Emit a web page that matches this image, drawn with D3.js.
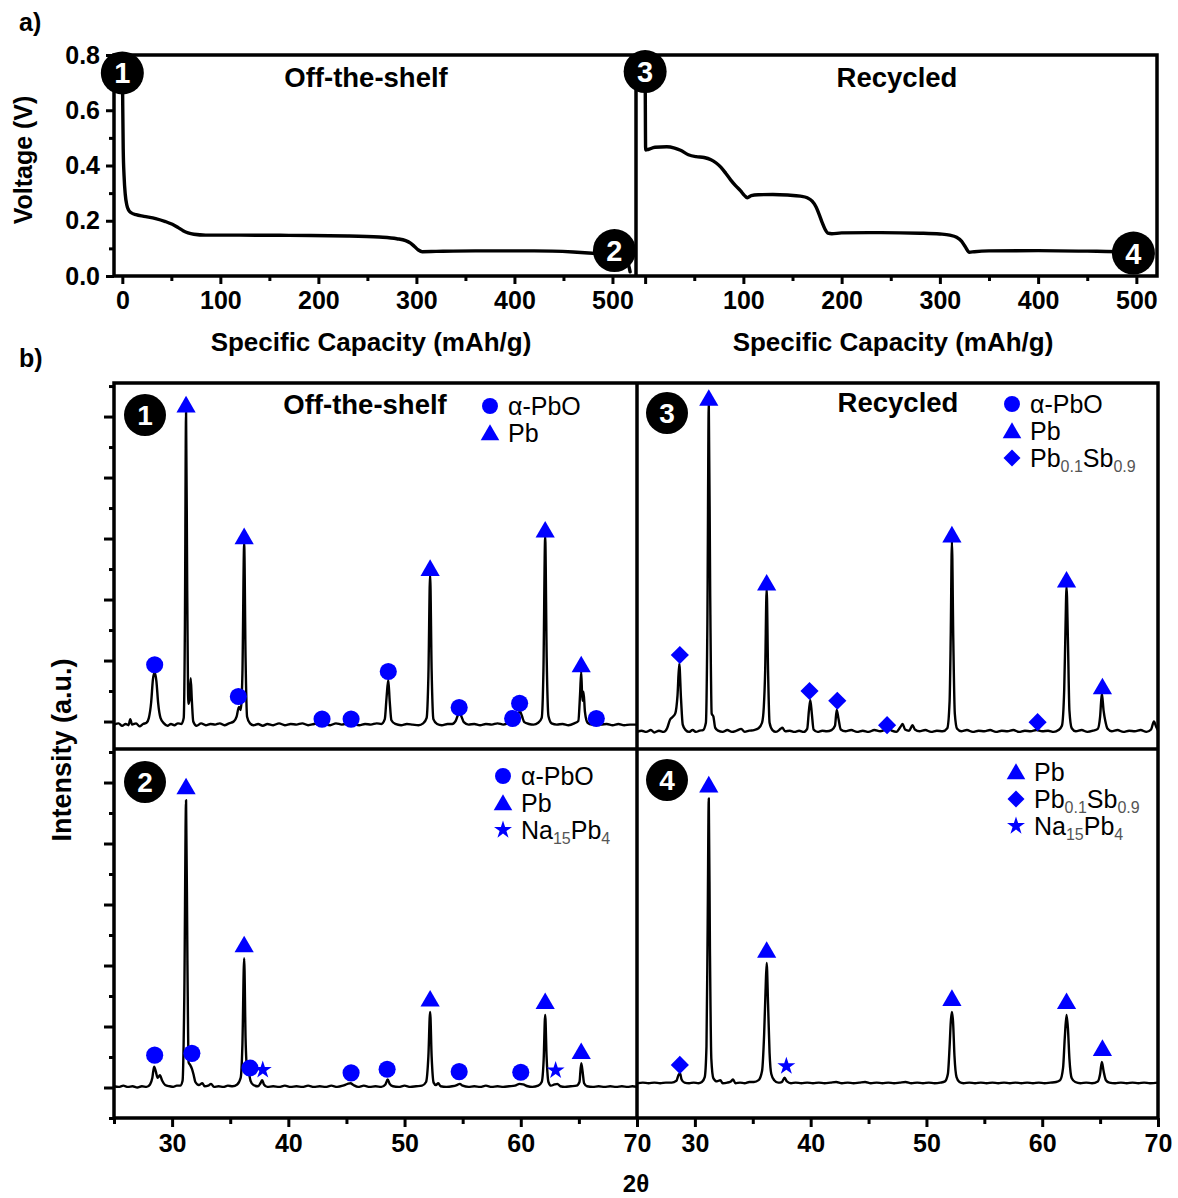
<!DOCTYPE html>
<html>
<head>
<meta charset="utf-8">
<script src="https://cdn.jsdelivr.net/npm/d3@7"></script>
<style>
  html, body { margin: 0; padding: 0; background: #fff; }
  svg { display: block; }
</style>
</head>
<body>
<svg id="fig" width="1178" height="1198"></svg>
<script>
// ---------------- data ----------------
// (a) galvanostatic discharge: specific capacity (mAh/g) vs voltage (V)
const voltageTicks = [0, 0.2, 0.4, 0.6, 0.8];
const voltageMinorTicks = [0.1, 0.3, 0.5, 0.7];
const capacityTicks = [0, 100, 200, 300, 400, 500];
const capacityMinorTicks = [50, 150, 250, 350, 450];

const dischargeOffShelf = [
  [0, 0.80], [0.4, 0.62], [0.9, 0.46], [1.8, 0.36], [3.0, 0.295], [4.5, 0.258], [6.5, 0.238],
  [9, 0.229], [14, 0.222], [22, 0.216], [34, 0.208], [44, 0.197], [51, 0.187], [57, 0.175],
  [62, 0.164], [67, 0.156], [73, 0.151], [85, 0.148], [120, 0.148], [170, 0.147], [230, 0.145],
  [262, 0.141], [280, 0.135], [289, 0.128], [294, 0.119], [298, 0.107], [302, 0.094], [306, 0.088],
  [320, 0.089], [360, 0.091], [420, 0.091], [460, 0.087], [490, 0.080], [505, 0.075], [512, 0.068],
  [516, 0.045], [518, 0.015]
];

const dischargeRecycled = [
  [0, 0.80], [0.2, 0.62], [0.5, 0.456], [3, 0.458], [10, 0.466], [22, 0.468], [30, 0.463],
  [36, 0.455], [44, 0.439], [52, 0.432], [60, 0.429], [67, 0.421], [72, 0.410], [77, 0.394],
  [82, 0.372], [87, 0.348], [92, 0.327], [97, 0.309], [101, 0.292], [104, 0.283], [108, 0.291],
  [115, 0.294], [130, 0.295], [145, 0.293], [158, 0.289], [165, 0.283], [170, 0.271], [174, 0.250],
  [177, 0.224], [180, 0.195], [183, 0.170], [186, 0.155], [190, 0.153], [200, 0.156], [240, 0.157],
  [280, 0.155], [300, 0.152], [310, 0.148], [317, 0.140], [322, 0.126], [326, 0.105], [330, 0.086],
  [335, 0.088], [350, 0.091], [400, 0.092], [450, 0.090], [490, 0.087], [505, 0.084]
];

// numbered states on the discharge curves: [label, curve, capacity, voltage]
const dischargeStates = [
  ["1", "offShelf", 0, 0.735],
  ["2", "offShelf", 502, 0.092],
  ["3", "recycled", 0, 0.740],
  ["4", "recycled", 497, 0.083]
];

// (b) XRD: 2θ (deg) vs intensity (a.u., relative to each pattern's baseline)
const twoThetaTicks = [30, 40, 50, 60, 70];
const twoThetaMinorTicks = [25, 35, 45, 55, 65];
const intensityTicks = [0, 1, 2, 3, 4, 5, 6, 7, 8, 9, 10, 11];
const intensityMinorTicks = [-0.5, 0.5, 1.5, 2.5, 3.5, 4.5, 5.5, 6.5, 7.5, 8.5, 9.5, 10.5, 11.5];

// vertical stacking offsets of the four patterns
const xrdOffsets = [5.94, 0.01, 5.83, 0.07];

const xrdOffShelfPristine = [
  [25.0,0.01],[25.4,0.03],[25.7,-0.01],[26.0,0.02],[26.25,0.0],[26.4,0.1],[26.55,0.01],[26.9,0.03],
  [27.2,-0.02],[27.5,0.02],[27.8,0.04],[28.0,0.12],[28.2,0.38],[28.35,0.75],[28.5,0.87],[28.65,0.72],
  [28.8,0.36],[29.0,0.12],[29.3,0.03],[29.6,-0.01],[29.9,0.02],[30.2,0.0],[30.5,0.03],[30.8,0.02],
  [31.0,0.12],[31.1,1.6],[31.2,5.13],[31.3,2.2],[31.4,0.35],[31.5,0.42],[31.6,0.77],[31.7,0.4],
  [31.82,0.06],[32.1,-0.01],[32.5,0.03],[32.9,0.0],[33.3,0.02],[33.7,0.01],[34.1,0.03],[34.5,0.0],
  [34.9,0.03],[35.3,0.06],[35.55,0.14],[35.75,0.3],[35.9,0.25],[36.05,0.85],[36.2,2.98],[36.32,1.1],
  [36.45,0.14],[36.7,0.03],[37.0,0.0],[37.4,0.02],[37.8,-0.01],[38.2,0.02],[38.7,0.0],[39.2,0.03],
  [39.7,0.0],[40.2,0.02],[40.7,0.01],[41.2,0.03],[41.7,0.0],[42.2,0.02],[42.6,0.04],[42.85,0.06],
  [43.1,0.02],[43.6,0.0],[44.1,0.03],[44.6,0.01],[45.0,0.03],[45.3,0.06],[45.6,0.02],[46.1,0.0],
  [46.6,0.02],[47.1,0.01],[47.6,0.03],[48.0,0.02],[48.3,0.1],[48.45,0.45],[48.6,0.74],[48.72,0.4],
  [48.87,0.08],[49.2,0.02],[49.7,0.0],[50.2,0.02],[50.7,0.01],[51.2,0.0],[51.6,0.03],[51.9,0.12],
  [52.05,0.8],[52.2,2.48],[52.33,0.9],[52.48,0.1],[52.8,0.02],[53.2,0.0],[53.7,0.02],[54.1,0.02],
  [54.4,0.07],[54.6,0.17],[54.75,0.2],[54.9,0.14],[55.1,0.05],[55.5,0.01],[56.0,0.02],[56.5,0.0],
  [57.0,0.02],[57.5,0.01],[58.0,0.03],[58.5,0.01],[58.9,0.03],[59.3,0.06],[59.6,0.1],[59.8,0.2],
  [59.95,0.22],[60.1,0.15],[60.3,0.05],[60.7,0.02],[61.1,0.01],[61.5,0.04],[61.8,0.12],[61.95,0.9],
  [62.1,3.09],[62.23,1.1],[62.38,0.15],[62.65,0.03],[63.1,0.01],[63.6,0.02],[64.1,0.0],[64.6,0.03],
  [64.95,0.07],[65.1,0.5],[65.2,0.88],[65.3,0.4],[65.4,0.55],[65.52,0.22],[65.75,0.04],[66.1,0.01],
  [66.5,0.04],[66.9,0.01],[67.4,0.02],[67.9,0.0],[68.4,0.02],[68.9,0.0],[69.4,0.01],[70.0,0.01]
];

const xrdOffShelfDischarged = [
  [25.0,0.01],[25.4,0.0],[25.8,0.02],[26.2,0.0],[26.6,0.01],[27.0,-0.01],[27.4,0.01],[27.8,0.0],
  [28.1,0.04],[28.3,0.15],[28.45,0.33],[28.6,0.25],[28.75,0.15],[28.95,0.19],[29.15,0.1],[29.4,0.03],
  [29.8,0.01],[30.1,0.0],[30.4,0.02],[30.7,0.02],[30.9,0.1],[31.05,1.5],[31.2,4.7],[31.32,2.0],
  [31.42,0.4],[31.55,0.36],[31.7,0.3],[31.85,0.2],[32.0,0.08],[32.3,0.03],[32.6,0.06],[32.8,0.01],
  [33.1,0.02],[33.35,0.05],[33.6,0.0],[34.0,0.01],[34.4,0.0],[34.8,0.02],[35.2,0.01],[35.6,0.04],
  [35.9,0.15],[36.05,0.7],[36.2,2.11],[36.32,0.8],[36.45,0.3],[36.6,0.23],[36.75,0.1],[37.0,0.03],
  [37.4,0.01],[37.6,0.06],[37.75,0.11],[37.9,0.04],[38.2,0.0],[38.7,0.01],[39.2,0.0],[39.7,0.02],
  [40.2,0.0],[40.7,0.01],[41.2,0.0],[41.7,0.02],[42.2,0.0],[42.7,0.01],[43.2,0.0],[43.7,0.02],
  [44.2,0.0],[44.7,0.02],[45.1,0.05],[45.35,0.06],[45.6,0.03],[46.0,0.0],[46.5,0.02],[47.0,0.0],
  [47.5,0.01],[48.0,0.0],[48.35,0.04],[48.55,0.12],[48.72,0.05],[49.0,0.01],[49.5,0.0],[50.0,0.02],
  [50.5,0.0],[51.0,0.01],[51.5,0.02],[51.85,0.08],[52.05,0.5],[52.2,1.23],[52.33,0.5],[52.5,0.07],
  [52.7,0.03],[52.9,0.06],[53.1,0.01],[53.6,0.0],[54.1,0.01],[54.5,0.03],[54.75,0.05],[55.0,0.02],
  [55.5,0.0],[56.0,0.01],[56.5,0.0],[57.0,0.02],[57.5,0.0],[58.0,0.01],[58.5,0.0],[59.0,0.01],
  [59.5,0.02],[59.9,0.05],[60.2,0.04],[60.6,0.01],[61.0,0.0],[61.5,0.02],[61.8,0.08],[61.97,0.45],
  [62.1,1.18],[62.22,0.5],[62.38,0.08],[62.6,0.02],[62.9,0.04],[63.15,0.05],[63.4,0.01],[63.8,0.0],
  [64.3,0.01],[64.8,0.02],[65.05,0.08],[65.2,0.39],[65.32,0.25],[65.45,0.06],[65.7,0.01],[66.2,0.0],
  [66.7,0.01],[67.2,0.0],[67.7,0.01],[68.2,0.0],[68.7,0.01],[69.2,0.0],[69.6,0.01],[70.0,0.0]
];

const xrdRecycledPristine = [
  [25.0,0.0],[25.4,0.02],[25.8,0.0],[26.2,0.03],[26.5,-0.01],[26.9,0.02],[27.3,0.0],[27.6,0.06],
  [27.85,0.2],[28.05,0.24],[28.3,0.3],[28.5,0.6],[28.65,1.12],[28.8,0.55],[28.95,0.12],[29.2,0.03],
  [29.5,0.0],[29.8,0.03],[30.1,0.0],[30.4,0.02],[30.7,0.03],[30.95,0.15],[31.08,1.8],[31.2,5.39],
  [31.32,2.3],[31.45,0.3],[31.6,0.25],[31.75,0.07],[32.0,0.02],[32.4,0.0],[32.8,0.03],[33.2,0.0],
  [33.6,0.02],[34.0,0.05],[34.3,0.0],[34.7,0.02],[35.1,0.03],[35.5,0.06],[35.8,0.15],[35.95,0.4],
  [36.07,1.0],[36.2,2.35],[36.32,1.0],[36.45,0.15],[36.7,0.03],[37.0,0.0],[37.4,0.05],[37.55,0.07],
  [37.8,0.01],[38.2,0.02],[38.6,0.0],[39.0,0.02],[39.4,0.0],[39.7,0.05],[39.85,0.35],[39.97,0.52],
  [40.1,0.3],[40.25,0.04],[40.6,0.0],[41.0,0.02],[41.4,0.01],[41.8,0.03],[42.1,0.1],[42.25,0.36],
  [42.4,0.22],[42.6,0.04],[43.0,0.01],[43.5,0.03],[44.0,0.0],[44.5,0.02],[45.0,0.0],[45.5,0.03],
  [46.0,0.01],[46.4,0.03],[46.7,0.05],[47.0,0.02],[47.4,0.0],[47.75,0.08],[47.95,0.13],[48.15,0.04],
  [48.5,0.02],[48.8,0.11],[49.0,0.04],[49.4,0.01],[49.9,0.03],[50.4,0.0],[50.9,0.02],[51.4,0.01],
  [51.8,0.06],[52.0,0.5],[52.1,1.6],[52.2,3.12],[52.32,1.5],[52.45,0.3],[52.65,0.05],[53.0,0.01],
  [53.5,0.03],[54.0,0.0],[54.5,0.02],[55.0,0.01],[55.5,0.03],[56.0,0.0],[56.5,0.02],[57.0,0.01],
  [57.5,0.03],[58.0,0.0],[58.5,0.02],[59.0,0.01],[59.5,0.03],[60.0,0.01],[60.5,0.02],[61.0,0.0],
  [61.4,0.03],[61.7,0.1],[61.9,0.7],[62.0,1.6],[62.1,2.38],[62.22,1.5],[62.35,0.35],[62.55,0.06],
  [62.9,0.01],[63.4,0.03],[63.9,0.0],[64.4,0.02],[64.8,0.05],[65.0,0.25],[65.15,0.63],[65.3,0.35],
  [65.45,0.18],[65.65,0.05],[66.0,0.01],[66.5,0.03],[67.0,0.0],[67.5,0.02],[68.0,0.01],[68.5,0.03],
  [69.0,0.0],[69.4,0.04],[69.65,0.17],[69.85,0.08],[70.0,0.03]
];

const xrdRecycledDischarged = [
  [25.0,0.0],[25.5,0.01],[26.0,0.0],[26.5,0.01],[27.0,0.0],[27.5,0.01],[28.0,0.01],[28.4,0.04],
  [28.6,0.14],[28.72,0.16],[28.85,0.06],[29.1,0.01],[29.5,0.0],[29.9,0.01],[30.3,0.0],[30.6,0.02],
  [30.85,0.1],[31.0,0.6],[31.1,2.5],[31.2,4.67],[31.3,2.2],[31.42,0.4],[31.6,0.08],[31.9,0.03],
  [32.2,0.05],[32.4,0.0],[32.8,0.01],[33.1,0.03],[33.3,0.06],[33.5,0.0],[33.9,0.01],[34.3,0.0],
  [34.7,0.02],[35.1,0.02],[35.5,0.05],[35.8,0.2],[35.98,0.8],[36.1,1.5],[36.2,1.97],[36.32,1.3],
  [36.45,0.5],[36.6,0.15],[36.85,0.05],[37.2,0.01],[37.5,0.02],[37.75,0.09],[37.95,0.03],[38.3,0.0],
  [38.7,0.01],[39.2,0.0],[39.7,0.01],[40.2,0.0],[40.7,0.01],[41.2,0.0],[41.7,0.01],[42.2,0.02],
  [42.7,0.0],[43.2,0.01],[43.7,0.0],[44.2,0.01],[44.7,0.02],[45.2,0.0],[45.7,0.01],[46.2,0.0],
  [46.7,0.01],[47.2,0.0],[47.7,0.01],[48.2,0.02],[48.7,0.0],[49.2,0.01],[49.7,0.0],[50.2,0.01],
  [50.7,0.0],[51.2,0.01],[51.6,0.03],[51.85,0.15],[52.0,0.6],[52.1,1.0],[52.2,1.17],[52.3,1.0],
  [52.42,0.45],[52.6,0.1],[52.85,0.02],[53.2,0.0],[53.7,0.01],[54.2,0.0],[54.7,0.01],[55.2,0.0],
  [55.7,0.01],[56.2,0.0],[56.7,0.01],[57.2,0.0],[57.7,0.01],[58.2,0.0],[58.7,0.01],[59.2,0.0],
  [59.7,0.01],[60.2,0.0],[60.7,0.01],[61.2,0.02],[61.55,0.05],[61.8,0.25],[61.95,0.75],[62.1,1.12],
  [62.22,0.9],[62.35,0.4],[62.55,0.08],[62.85,0.02],[63.3,0.0],[63.8,0.01],[64.3,0.0],[64.8,0.03],
  [65.0,0.15],[65.15,0.35],[65.3,0.2],[65.5,0.05],[65.8,0.01],[66.3,0.0],[66.8,0.01],[67.3,0.0],
  [67.8,0.01],[68.3,0.0],[68.8,0.01],[69.3,0.0],[70.0,0.01]
];

// phase markers: [phase, 2θ, stacked intensity level]
const markersOffShelfPristine = [
  ["PbO",28.5,6.93],["Pb",31.2,11.19],["PbO",35.7,6.41],["Pb",36.2,9.03],["PbO",42.9,6.04],
  ["PbO",45.4,6.04],["PbO",48.6,6.82],["Pb",52.2,8.51],["PbO",54.7,6.23],["PbO",59.3,6.05],
  ["PbO",59.9,6.30],["Pb",62.1,9.14],["Pb",65.2,6.93],["PbO",66.5,6.05]
];
const markersOffShelfDischarged = [
  ["PbO",28.5,0.53],["Pb",31.2,4.93],["PbO",31.7,0.56],["Pb",36.2,2.34],["PbO",36.7,0.32],
  ["Na15Pb4",37.8,0.29],["PbO",45.4,0.24],["PbO",48.5,0.30],["Pb",52.2,1.45],["PbO",54.7,0.26],
  ["PbO",60.0,0.25],["Pb",62.1,1.41],["Na15Pb4",63.0,0.28],["Pb",65.2,0.59]
];
const markersRecycledPristine = [
  ["PbSb",28.7,7.09],["Pb",31.2,11.30],["Pb",36.2,8.27],["PbSb",39.9,6.50],["PbSb",42.3,6.34],
  ["PbSb",46.6,5.94],["Pb",52.2,9.06],["PbSb",59.6,5.99],["Pb",62.1,8.32],["Pb",65.2,6.57]
];
const markersRecycledDischarged = [
  ["PbSb",28.7,0.37],["Pb",31.2,4.96],["Pb",36.2,2.25],["Na15Pb4",37.9,0.35],["Pb",52.2,1.46],
  ["Pb",62.1,1.41],["Pb",65.2,0.64]
];

const legendOffShelfPristine = ["PbO", "Pb"];
const legendOffShelfDischarged = ["PbO", "Pb", "Na15Pb4"];
const legendRecycledPristine = ["PbO", "Pb", "PbSb"];
const legendRecycledDischarged = ["Pb", "PbSb", "Na15Pb4"];

// phase names, split into [text, isSubscript] runs
const phaseNames = {
  PbO: [["α-PbO", false]],
  Pb: [["Pb", false]],
  PbSb: [["Pb", false], ["0.1", true], ["Sb", false], ["0.9", true]],
  Na15Pb4: [["Na", false], ["15", true], ["Pb", false], ["4", true]]
};

// ---------------- drawing ----------------
const FONT = '"Liberation Sans", Arial, Helvetica, sans-serif';
const BLUE = "#0000ff";
const svg = d3.select("#fig").attr("font-family", FONT);

// (a) scales
const xCapL = d3.scaleLinear().domain([-8.5, 524]).range([114, 636]);
const xCapR = d3.scaleLinear().domain([-9.3, 521]).range([636, 1157]);
const yV = d3.scaleLinear().domain([0, 0.8]).range([276, 55]);

// (b) scales
const x2tL = d3.scaleLinear().domain([25, 70]).range([114, 637]);
const x2tR = d3.scaleLinear().domain([25, 70]).range([637, 1158]);
const yI = d3.scaleLinear().domain([-0.5, 11.55]).range([1118, 383]);

function styleAxis(g, size) {
  g.select(".domain").remove();
  g.selectAll(".tick line").attr("stroke", "#000").attr("stroke-width", 3);
  g.selectAll(".tick text")
    .attr("font-family", FONT).attr("font-weight", "bold")
    .attr("font-size", size).attr("fill", "#000");
}

function addText(x, y, str, opts = {}) {
  return svg.append("text")
    .attr("x", x).attr("y", y)
    .attr("text-anchor", opts.anchor || "middle")
    .attr("font-size", opts.size || 24)
    .attr("font-weight", opts.weight || "bold")
    .attr("fill", opts.fill || "#000")
    .attr("transform", opts.transform || null)
    .text(str);
}

// panel labels
addText(19, 31, "a)", { anchor: "start", size: 25 });
addText(19, 367, "b)", { anchor: "start", size: 25 });

// ---- (a) axes ----
const gAy = svg.append("g").attr("transform", "translate(114,0)");
gAy.append("g").call(d3.axisLeft(yV).tickValues(voltageTicks).tickSize(8).tickPadding(6)
  .tickFormat(d3.format(".1f"))).call(styleAxis, 25);
gAy.append("g").call(d3.axisLeft(yV).tickValues(voltageMinorTicks).tickSize(5).tickFormat(""))
  .call(styleAxis, 25);

[[xCapL, d => d3.format("d")(d)], [xCapR, d => d === 0 ? "" : d3.format("d")(d)]].forEach(([sc, fmt]) => {
  const g = svg.append("g").attr("transform", "translate(0,276)");
  g.append("g").call(d3.axisBottom(sc).tickValues(capacityTicks).tickSize(8).tickPadding(7)
    .tickFormat(fmt)).call(styleAxis, 25);
  g.append("g").call(d3.axisBottom(sc).tickValues(capacityMinorTicks).tickSize(5).tickFormat(""))
    .call(styleAxis, 25);
});

addText(23, 160, "Voltage (V)", { size: 25, transform: "rotate(-90,23,160)" }).attr("dy", "0.35em");
addText(371, 351, "Specific Capacity (mAh/g)", { size: 26 });
addText(893, 351, "Specific Capacity (mAh/g)", { size: 26 });

// ---- (a) curves ----
svg.append("defs").call(defs => {
  defs.append("clipPath").attr("id", "clipAL").append("rect").attr("x", 114).attr("y", 55).attr("width", 522).attr("height", 221);
  defs.append("clipPath").attr("id", "clipAR").append("rect").attr("x", 636).attr("y", 55).attr("width", 521).attr("height", 221);
});

const curveScales = { offShelf: xCapL, recycled: xCapR };
[["offShelf", dischargeOffShelf, "clipAL"], ["recycled", dischargeRecycled, "clipAR"]].forEach(([key, data, clip]) => {
  const sc = curveScales[key];
  svg.append("path")
    .datum(data)
    .attr("clip-path", `url(#${clip})`)
    .attr("fill", "none").attr("stroke", "#000").attr("stroke-width", 3.4)
    .attr("stroke-linejoin", "round").attr("stroke-linecap", "round")
    .attr("d", d3.line().x(d => sc(d[0])).y(d => yV(d[1])).curve(d3.curveMonotoneX));
});

// frame of (a)
const frameA = svg.append("g").attr("fill", "none").attr("stroke", "#000").attr("stroke-width", 3.5);
frameA.append("rect").attr("x", 114).attr("y", 55).attr("width", 1043).attr("height", 221);
frameA.append("line").attr("x1", 636).attr("x2", 636).attr("y1", 55).attr("y2", 276);

// titles in (a)
addText(366, 87, "Off-the-shelf", { size: 27.5 });
addText(897, 87, "Recycled", { size: 27.5 });

// numbered state badges
function badge(cx, cy, label, r, fs) {
  const g = svg.append("g");
  g.append("circle").attr("cx", cx).attr("cy", cy).attr("r", r).attr("fill", "#000");
  g.append("text").attr("x", cx).attr("y", cy).attr("dy", "0.36em")
    .attr("text-anchor", "middle").attr("font-size", fs).attr("font-weight", "bold")
    .attr("fill", "#fff").text(label);
}
dischargeStates.forEach(([label, curve, cap, v]) => {
  badge(curveScales[curve](cap), yV(v), label, 21.5, 29);
});

// ---- (b) XRD panels ----
const xrdPanels = [
  { data: xrdOffShelfPristine, offset: xrdOffsets[0], markers: markersOffShelfPristine,
    legend: legendOffShelfPristine, x: x2tL, box: [114, 383, 637, 749], badge: ["1", 145, 415],
    title: ["Off-the-shelf", 365, 414], legendAt: [490, 406] },
  { data: xrdOffShelfDischarged, offset: xrdOffsets[1], markers: markersOffShelfDischarged,
    legend: legendOffShelfDischarged, x: x2tL, box: [114, 749, 637, 1118], badge: ["2", 145, 782],
    title: null, legendAt: [503, 776] },
  { data: xrdRecycledPristine, offset: xrdOffsets[2], markers: markersRecycledPristine,
    legend: legendRecycledPristine, x: x2tR, box: [637, 383, 1158, 749], badge: ["3", 667, 413],
    title: ["Recycled", 898, 412], legendAt: [1012, 404] },
  { data: xrdRecycledDischarged, offset: xrdOffsets[3], markers: markersRecycledDischarged,
    legend: legendRecycledDischarged, x: x2tR, box: [637, 749, 1158, 1118], badge: ["4", 667, 780],
    title: null, legendAt: [1016, 772] }
];

const symbolType = { PbO: d3.symbolCircle, Pb: d3.symbolTriangle, PbSb: d3.symbolSquare, Na15Pb4: d3.symbolStar };
const symbolSize = { PbO: 230, Pb: 160, PbSb: 165, Na15Pb4: 100 };
const legendSize = { PbO: 200, Pb: 150, PbSb: 145, Na15Pb4: 100 };
// triangles are centred on their centroid; shift so the marker box is centred
const symbolDy = { PbO: 0, Pb: 2, PbSb: 0, Na15Pb4: 0 };
const symbolRotate = { PbO: 0, Pb: 0, PbSb: 45, Na15Pb4: 0 };

function drawSymbol(g, phase, x, y, size) {
  g.append("path")
    .attr("d", d3.symbol().type(symbolType[phase]).size(size)())
    .attr("transform", `translate(${x},${y + symbolDy[phase]}) rotate(${symbolRotate[phase]})`)
    .attr("fill", BLUE);
}

const defsB = svg.append("defs");
xrdPanels.forEach((p, i) => {
  const [x0, y0, x1, y1] = p.box;
  defsB.append("clipPath").attr("id", "clipB" + i).append("rect")
    .attr("x", x0).attr("y", y0).attr("width", x1 - x0).attr("height", y1 - y0);

  svg.append("path")
    .datum(p.data)
    .attr("clip-path", `url(#clipB${i})`)
    .attr("fill", "none").attr("stroke", "#000").attr("stroke-width", 2.4)
    .attr("stroke-linejoin", "round")
    .attr("d", d3.line().x(d => p.x(d[0])).y(d => yI(d[1] + p.offset)).curve(d3.curveMonotoneX));

  const gm = svg.append("g");
  p.markers.forEach(([phase, tt, lvl]) => drawSymbol(gm, phase, p.x(tt), yI(lvl), symbolSize[phase]));

  // legend
  const gl = svg.append("g");
  p.legend.forEach((phase, k) => {
    const ly = p.legendAt[1] + k * 27;
    drawSymbol(gl, phase, p.legendAt[0], ly, legendSize[phase]);
    const t = gl.append("text").attr("x", p.legendAt[0] + 18).attr("y", ly + 9)
      .attr("font-size", 25).attr("fill", "#000");
    phaseNames[phase].forEach(([s, sub], j) => {
      const ts = t.append("tspan").text(s);
      if (sub) ts.attr("font-size", 16).attr("dy", 5).attr("fill", "#555");
      else if (j > 0) ts.attr("dy", -5);
    });
  });

  if (p.title) addText(p.title[1], p.title[2], p.title[0], { size: 27.5 });
  badge(p.badge[1], p.badge[2], p.badge[0], 21, 28);
});

// frame of (b)
const frameB = svg.append("g").attr("fill", "none").attr("stroke", "#000").attr("stroke-width", 3.5);
frameB.append("rect").attr("x", 114).attr("y", 383).attr("width", 1044).attr("height", 735);
frameB.append("line").attr("x1", 637).attr("x2", 637).attr("y1", 383).attr("y2", 1118);
frameB.append("line").attr("x1", 114).attr("x2", 1158).attr("y1", 749).attr("y2", 749);

// (b) axes
const gBy = svg.append("g").attr("transform", "translate(114,0)");
gBy.append("g").call(d3.axisLeft(yI).tickValues(intensityTicks).tickSize(10).tickFormat("")).call(styleAxis, 24);
gBy.append("g").call(d3.axisLeft(yI).tickValues(intensityMinorTicks).tickSize(5).tickFormat("")).call(styleAxis, 24);

[x2tL, x2tR].forEach(sc => {
  const g = svg.append("g").attr("transform", "translate(0,1118)");
  g.append("g").call(d3.axisBottom(sc).tickValues(twoThetaTicks).tickSize(9).tickPadding(7)
    .tickFormat(d3.format("d"))).call(styleAxis, 25);
  g.append("g").call(d3.axisBottom(sc).tickValues(twoThetaMinorTicks).tickSize(6).tickFormat(""))
    .call(styleAxis, 25);
});

addText(62, 750, "Intensity (a.u.)", { size: 27, transform: "rotate(-90,62,750)" }).attr("dy", "0.35em");
addText(636, 1192, "2θ", { size: 24 });
</script>
</body>
</html>
